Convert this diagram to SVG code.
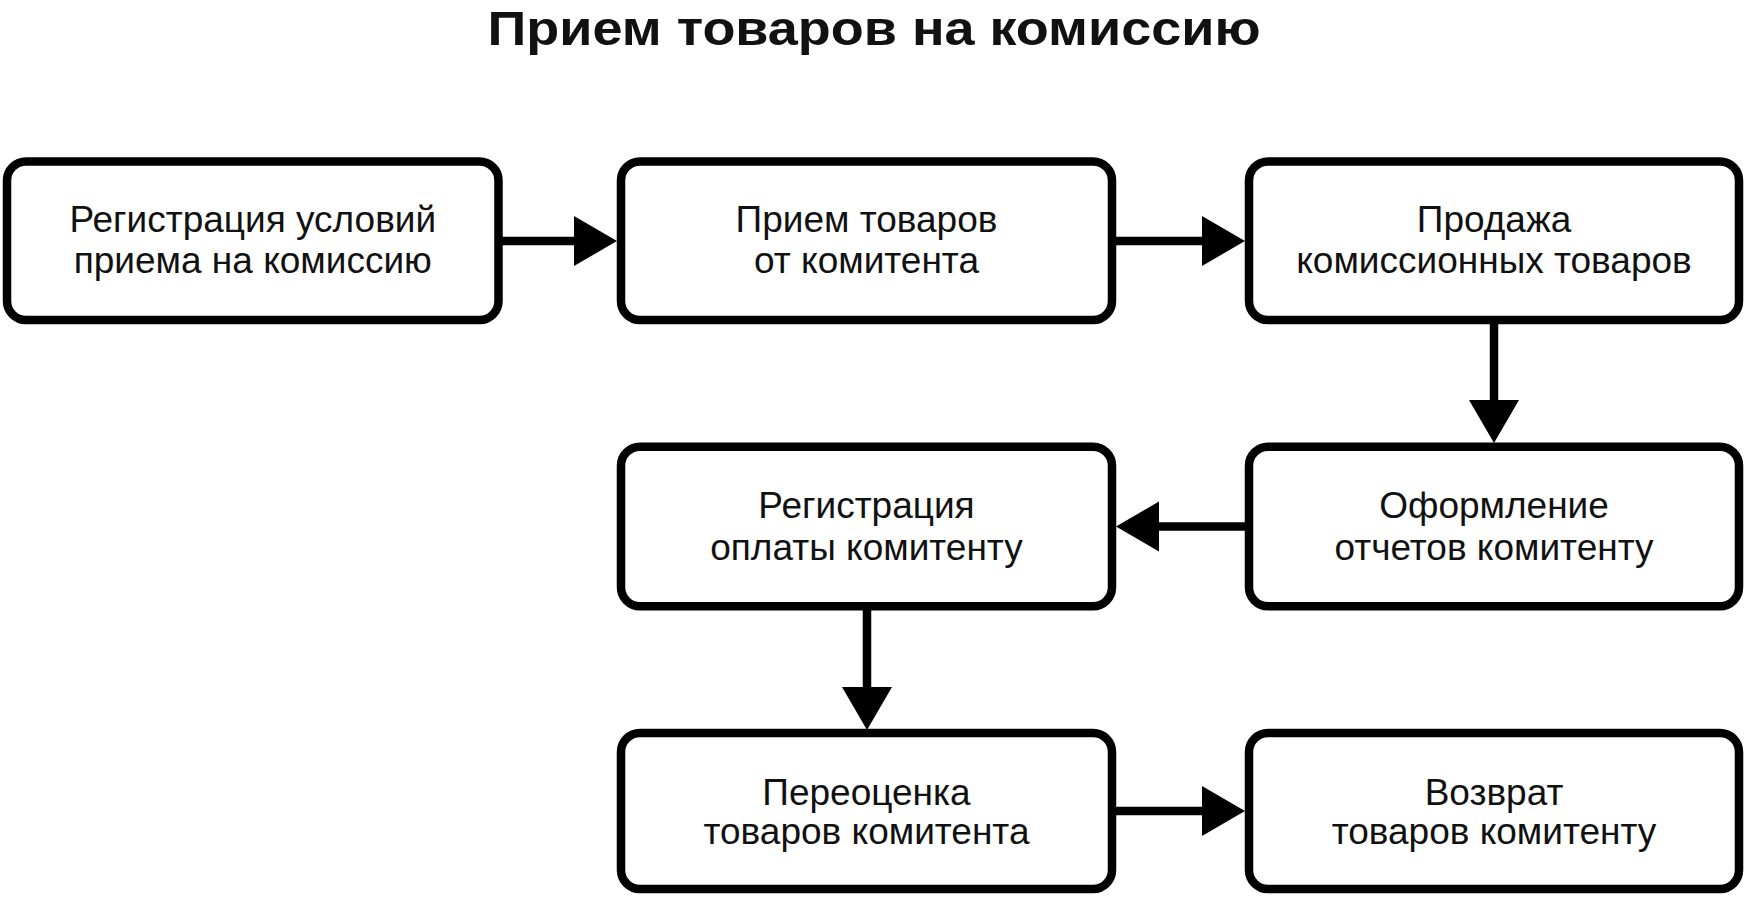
<svg xmlns="http://www.w3.org/2000/svg" width="1748" height="898" viewBox="0 0 1748 898">
<style>
.box{fill:#fff;stroke:#000;stroke-width:8.5}
.lbl{font-family:"Liberation Sans",Arial,sans-serif;font-size:37px;fill:#111;text-anchor:middle}
.title{font-family:"Liberation Sans",Arial,sans-serif;font-size:48px;font-weight:bold;fill:#111;text-anchor:middle}
.ln{stroke:#000;stroke-width:8.5;fill:none}
.hd{fill:#000}
</style>
<rect width="1748" height="898" fill="#fff"/>
<text class="title" x="874" y="45" textLength="773" lengthAdjust="spacingAndGlyphs">Прием товаров на комиссию</text>
<g id="n1"><rect class="box" x="7" y="161.5" width="491.5" height="158.5" rx="19"/><text class="lbl" x="252.8" y="232">Регистрация условий</text><text class="lbl" x="252.8" y="273">приема на комиссию</text></g>
<g id="n2"><rect class="box" x="621" y="161.5" width="491" height="158.5" rx="19"/><text class="lbl" x="866.5" y="232">Прием товаров</text><text class="lbl" x="866.5" y="273">от комитента</text></g>
<g id="n3"><rect class="box" x="1249" y="161.5" width="490" height="158.5" rx="19"/><text class="lbl" x="1494" y="232">Продажа</text><text class="lbl" x="1494" y="273">комиссионных товаров</text></g>
<g id="n4"><rect class="box" x="621" y="446.7" width="491" height="159.6" rx="19"/><text class="lbl" x="866.5" y="518">Регистрация</text><text class="lbl" x="866.5" y="559.5">оплаты комитенту</text></g>
<g id="n5"><rect class="box" x="1249" y="446.7" width="490" height="159.6" rx="19"/><text class="lbl" x="1494" y="518">Оформление</text><text class="lbl" x="1494" y="559.5">отчетов комитенту</text></g>
<g id="n6"><rect class="box" x="621" y="733" width="491" height="156" rx="19"/><text class="lbl" x="866.5" y="805">Переоценка</text><text class="lbl" x="866.5" y="844">товаров комитента</text></g>
<g id="n7"><rect class="box" x="1249" y="733" width="490" height="156" rx="19"/><text class="lbl" x="1494" y="805">Возврат</text><text class="lbl" x="1494" y="844">товаров комитенту</text></g>
<g id="connectors">
<line class="ln" x1="498.5" y1="241" x2="575" y2="241"/><polygon class="hd" points="574,216 617,241 574,266"/>
<line class="ln" x1="1112" y1="241" x2="1203" y2="241"/><polygon class="hd" points="1202,216 1245,241 1202,266"/>
<line class="ln" x1="1494" y1="320" x2="1494" y2="401"/><polygon class="hd" points="1469,400 1519,400 1494,443"/>
<line class="ln" x1="1249" y1="526.5" x2="1158" y2="526.5"/><polygon class="hd" points="1159,501.5 1116,526.5 1159,551.5"/>
<line class="ln" x1="867" y1="606" x2="867" y2="688"/><polygon class="hd" points="842,687 892,687 867,730"/>
<line class="ln" x1="1112" y1="811" x2="1203" y2="811"/><polygon class="hd" points="1202,786 1245,811 1202,836"/>
</g>
</svg>
